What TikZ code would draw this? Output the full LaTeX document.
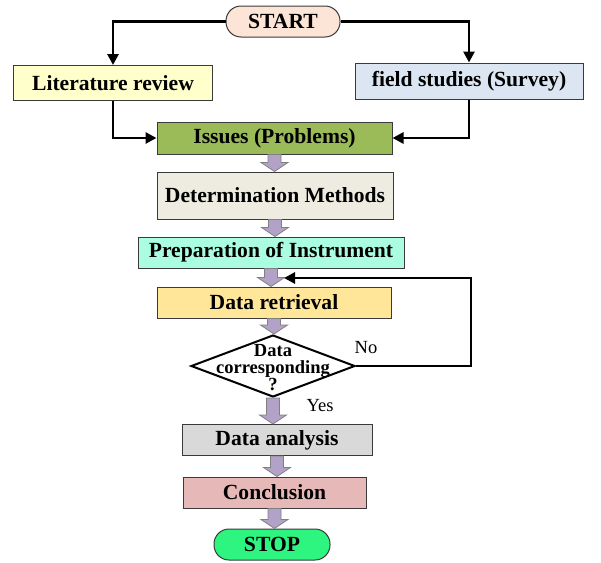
\documentclass[tikz,border=0pt]{standalone}
\usepackage{fontspec}
\setmainfont{Liberation Serif}
\usetikzlibrary{shapes.geometric,arrows.meta,calc}
\definecolor{boxline}{HTML}{3A3A3A}
\definecolor{startc}{HTML}{FCE4D6}
\definecolor{litc}{HTML}{FFFFCC}
\definecolor{fieldc}{HTML}{DCE6F2}
\definecolor{issuec}{HTML}{9BBB59}
\definecolor{detc}{HTML}{EEECE1}
\definecolor{prepc}{HTML}{ABFDE1}
\definecolor{retc}{HTML}{FFE699}
\definecolor{anac}{HTML}{D9D9D9}
\definecolor{concc}{HTML}{E6B9B8}
\definecolor{stopc}{HTML}{2EF57F}
\definecolor{fatfill}{HTML}{B3A2C7}
\definecolor{fatline}{HTML}{808080}
\newcommand\fatarrow[2]{%
  \path[fat] let \p1=(#1.south), \p2=(#2.north) in
    ({\x1-6.5pt},{\y1}) -- ({\x1-6.5pt},{\y2+9pt}) -- ({\x1-13.5pt},{\y2+9pt})
    -- ({\x1},{\y2}) -- ({\x1+13.5pt},{\y2+9pt}) -- ({\x1+6.5pt},{\y2+9pt})
    -- ({\x1+6.5pt},{\y1}) -- cycle;}
\begin{document}
\begin{tikzpicture}[x=1pt,y=-1pt,
  box/.style={draw=boxline,line width=1pt,inner sep=0pt,text=black,
    font=\bfseries\fontsize{21.6}{23}\selectfont},
  term/.style={box,rounded corners=15pt},
  conn/.style={draw=black,line width=2.8pt,-{Triangle[length=11pt,width=11pt]}},
  fat/.style={fill=fatfill,draw=fatline,line width=0.8pt},
  lbl/.style={inner sep=0pt,font=\fontsize{18.5}{18}\selectfont}]
\useasboundingbox (0,0) rectangle (601,562);
\node[term,fill=startc,minimum width=114,minimum height=31] (start) at (283,21.5) {START};
\node[box,fill=litc,minimum width=199,minimum height=35] (lit) at (113,83) {Literature review};
\node[box,fill=fieldc,minimum width=228,minimum height=36] (field) at (469,81) {field studies (Survey)};
\node[box,fill=issuec,minimum width=235,minimum height=32] (issues) at (274.5,138) {Issues (Problems)};
\node[box,fill=detc,minimum width=236,minimum height=47] (det) at (275,195.5) {Determination Methods};
\node[box,fill=prepc,minimum width=266,minimum height=31] (prep) at (271,252.5) {Preparation of Instrument};
\node[box,fill=retc,minimum width=234,minimum height=31] (ret) at (274,302.5) {Data retrieval};
\node[diamond,draw=black,line width=2pt,fill=white,inner sep=0pt,minimum width=164,minimum height=62] (dia) at (273,366) {};
\node[inner sep=0pt,align=center,font=\bfseries\fontsize{18.5}{17}\selectfont] (diat) at (273,368) {Data\\corresponding\\?};
\node[box,fill=anac,minimum width=190,minimum height=31] (ana) at (277,440) {Data analysis};
\node[box,fill=concc,minimum width=183,minimum height=31] (conc) at (274.5,492.5) {Conclusion};
\node[term,fill=stopc,minimum width=116,minimum height=31] (stop) at (272,544.5) {STOP};
\node[lbl] (no) at (366,348) {No};
\node[lbl] (yes) at (320,406) {Yes};
\fatarrow{issues}{det}
\fatarrow{det}{prep}
\fatarrow{prep}{ret}
\fatarrow{ret}{dia}
\fatarrow{dia}{ana}
\fatarrow{ana}{conc}
\fatarrow{conc}{stop}
\coordinate (loopc) at (471,278);
\coordinate (fbend) at (284,278);
\draw[conn] (start.west) -| (lit.north);
\draw[conn] (start.east) -| (field.north);
\draw[conn] (lit.south) |- (issues.west);
\draw[conn] (field.south) |- (issues.east);
\draw[conn] (dia.east) -| (loopc) -- (fbend);
\end{tikzpicture}
\end{document}
